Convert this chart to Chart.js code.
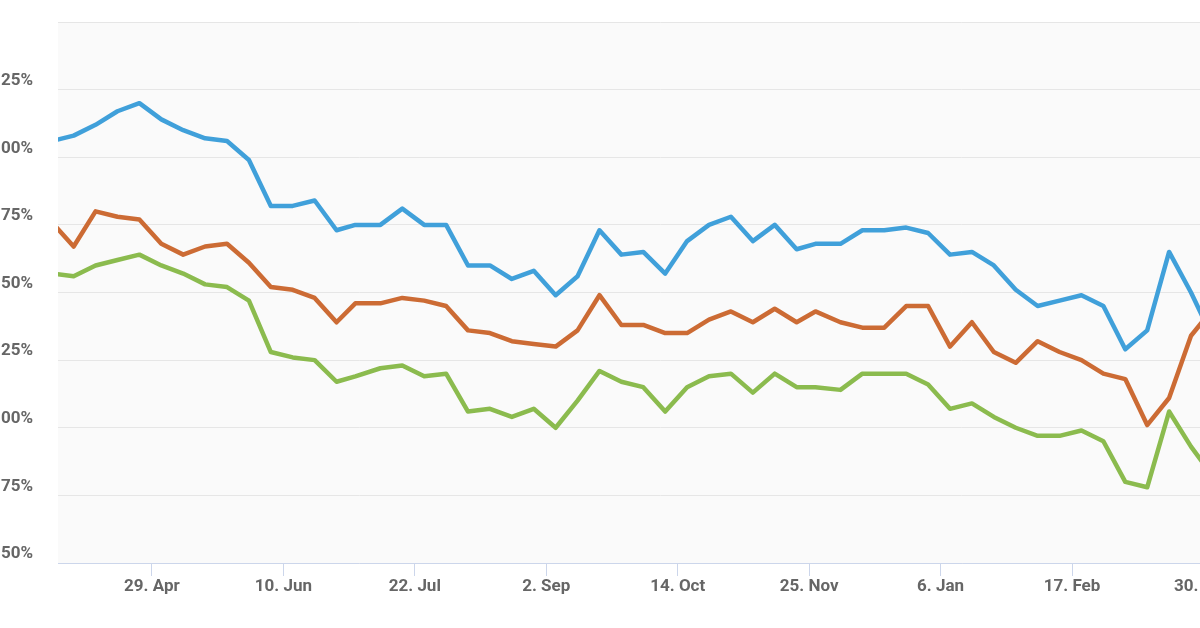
<!DOCTYPE html>
<html>
<head>
    <title>Mortgage rates</title>
    <script src="https://cdn.jsdelivr.net/npm/chart.js"></script>
    <style>
        body {
            margin: 0;
            background-color: white;
            overflow: hidden;
        }
        .frame {
            position: relative;
            width: 1200px;
            height: 628px;
            overflow: hidden;
        }
        .chart-box {
            position: absolute;
            left: -40px;
            top: 0;
            width: 1303px;
            height: 628px;
        }
    </style>
</head>
<body>
    <div class="frame">
        <div class="chart-box">
            <canvas id="rateChart"></canvas>
        </div>
    </div>

    <script>
        // weekly survey dates (first and last sit just outside the visible plot)
        const weeks = [
            '2019-03-28', '2019-04-04', '2019-04-11', '2019-04-18', '2019-04-25',
            '2019-05-02', '2019-05-09', '2019-05-16', '2019-05-23', '2019-05-30',
            '2019-06-06', '2019-06-13', '2019-06-20', '2019-06-27', '2019-07-03',
            '2019-07-11', '2019-07-18', '2019-07-25', '2019-08-01', '2019-08-08',
            '2019-08-15', '2019-08-22', '2019-08-29', '2019-09-05', '2019-09-12',
            '2019-09-19', '2019-09-26', '2019-10-03', '2019-10-10', '2019-10-17',
            '2019-10-24', '2019-10-31', '2019-11-07', '2019-11-14', '2019-11-21',
            '2019-11-27', '2019-12-05', '2019-12-12', '2019-12-19', '2019-12-26',
            '2020-01-02', '2020-01-09', '2020-01-16', '2020-01-23', '2020-01-30',
            '2020-02-06', '2020-02-13', '2020-02-20', '2020-02-27', '2020-03-05',
            '2020-03-12', '2020-03-19', '2020-03-26', '2020-04-02'
        ];

        const blueRates = [
            4.06, 4.08, 4.12, 4.17, 4.20, 4.14, 4.10, 4.07, 4.06, 3.99,
            3.82, 3.82, 3.84, 3.73, 3.75, 3.75, 3.81, 3.75, 3.75, 3.60,
            3.60, 3.55, 3.58, 3.49, 3.56, 3.73, 3.64, 3.65, 3.57, 3.69,
            3.75, 3.78, 3.69, 3.75, 3.66, 3.68, 3.68, 3.73, 3.73, 3.74,
            3.72, 3.64, 3.65, 3.60, 3.51, 3.45, 3.47, 3.49, 3.45, 3.29,
            3.36, 3.65, 3.50, 3.33
        ];

        const orangeRates = [
            3.76, 3.67, 3.80, 3.78, 3.77, 3.68, 3.64, 3.67, 3.68, 3.61,
            3.52, 3.51, 3.48, 3.39, 3.46, 3.46, 3.48, 3.47, 3.45, 3.36,
            3.35, 3.32, 3.31, 3.30, 3.36, 3.49, 3.38, 3.38, 3.35, 3.35,
            3.40, 3.43, 3.39, 3.44, 3.39, 3.43, 3.39, 3.37, 3.37, 3.45,
            3.45, 3.30, 3.39, 3.28, 3.24, 3.32, 3.28, 3.25, 3.20, 3.18,
            3.01, 3.11, 3.34, 3.44
        ];

        const greenRates = [
            3.57, 3.56, 3.60, 3.62, 3.64, 3.60, 3.57, 3.53, 3.52, 3.47,
            3.28, 3.26, 3.25, 3.17, 3.19, 3.22, 3.23, 3.19, 3.20, 3.06,
            3.07, 3.04, 3.07, 3.00, 3.10, 3.21, 3.17, 3.15, 3.06, 3.15,
            3.19, 3.20, 3.13, 3.20, 3.15, 3.15, 3.14, 3.20, 3.20, 3.20,
            3.16, 3.07, 3.09, 3.04, 3.00, 2.97, 2.97, 2.99, 2.95, 2.80,
            2.78, 3.06, 2.93, 2.82
        ];

        const tickDates = [
            '2019-04-29', '2019-06-10', '2019-07-22', '2019-09-02', '2019-10-14',
            '2019-11-25', '2020-01-06', '2020-02-17', '2020-03-30'
        ];
        const tickLabels = [
            '29. Apr', '10. Jun', '22. Jul', '2. Sep', '14. Oct',
            '25. Nov', '6. Jan', '17. Feb', '30. Mar'
        ];

        const axisStart = '2019-03-30';
        const axisEnd = '2020-04-18';
        const rateMin = 2.5;
        const rateMax = 4.5;
        const rateStep = 0.25;

        // days since the first tick date
        const origin = Date.parse(tickDates[0]);
        function toDay(s) {
            return (Date.parse(s) - origin) / 86400000;
        }

        function series(values) {
            return values.map((v, i) => ({ x: toDay(weeks[i]), y: v }));
        }

        const plotBackground = {
            id: 'plotBackground',
            beforeDraw(chart) {
                const a = chart.chartArea;
                const ctx = chart.ctx;
                ctx.save();
                ctx.fillStyle = '#fafafa';
                ctx.fillRect(a.left, a.top, a.right - a.left, a.bottom - a.top);
                ctx.restore();
            }
        };

        const labelFont = { family: 'Roboto', size: 17, weight: 'bold' };

        const lineStyle = {
            borderWidth: 4.5,
            pointRadius: 0,
            pointHoverRadius: 0,
            tension: 0,
            fill: false,
            clip: 0,
            borderJoinStyle: 'round',
            borderCapStyle: 'round'
        };

        const ctx = document.getElementById('rateChart').getContext('2d');
        const rateChart = new Chart(ctx, {
            type: 'line',
            data: {
                datasets: [
                    Object.assign({ label: 'Green', data: series(greenRates), borderColor: '#8bbb4e' }, lineStyle),
                    Object.assign({ label: 'Orange', data: series(orangeRates), borderColor: '#cc6b34' }, lineStyle),
                    Object.assign({ label: 'Blue', data: series(blueRates), borderColor: '#40a0da' }, lineStyle)
                ]
            },
            options: {
                responsive: true,
                maintainAspectRatio: false,
                animation: false,
                layout: { padding: { top: 22, right: 0, bottom: 0, left: 0 } },
                plugins: {
                    legend: { display: false },
                    tooltip: { enabled: false }
                },
                scales: {
                    x: {
                        type: 'linear',
                        min: toDay(axisStart),
                        max: toDay(axisEnd),
                        afterBuildTicks: scale => {
                            scale.ticks = tickDates.map(d => ({ value: toDay(d) }));
                        },
                        afterFit: scale => {
                            scale.height = 65;
                            scale.paddingLeft = 0;
                            scale.paddingRight = 0;
                        },
                        grid: {
                            drawOnChartArea: false,
                            drawTicks: true,
                            tickLength: 13,
                            color: '#ccd6eb'
                        },
                        border: { display: true, color: '#ccd6eb' },
                        ticks: {
                            autoSkip: false,
                            maxRotation: 0,
                            padding: 1,
                            color: '#666666',
                            font: labelFont,
                            callback: (value, index) => tickLabels[index]
                        }
                    },
                    y: {
                        min: rateMin,
                        max: rateMax,
                        afterFit: scale => {
                            scale.width = 98;
                            scale.paddingTop = 0;
                            scale.paddingBottom = 0;
                        },
                        grid: {
                            drawTicks: false,
                            color: '#e6e6e6'
                        },
                        border: { display: false },
                        ticks: {
                            stepSize: rateStep,
                            padding: 25,
                            labelOffset: -9,
                            color: '#666666',
                            font: labelFont,
                            callback: value => value === rateMax ? '' : value.toFixed(2) + '%'
                        }
                    }
                }
            },
            plugins: [plotBackground]
        });
    </script>
</body>
</html>
